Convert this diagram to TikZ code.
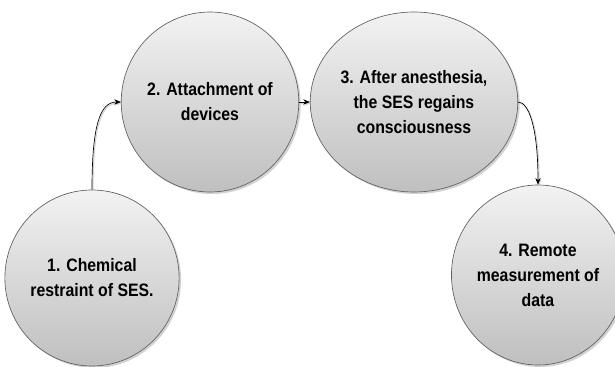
\documentclass[tikz,border=0pt]{standalone}
\usepackage{fontspec}
\setmainfont[FakeStretch=0.88]{Liberation Sans}
\usepackage{tikz}
\usetikzlibrary{shapes.geometric,shadows,arrows.meta}

\tikzset{
  stage/.style={ellipse, draw=gray!75!black, line width=0.5pt,
    top color=gray!10, bottom color=gray!50, inner sep=0pt,
    align=center, font=\bfseries\fontsize{13.5}{18.75}\selectfont,
    drop shadow={shadow xshift=1.5pt, shadow yshift=-1.5pt, fill=gray!70, opacity=0.5}},
  link/.style={-{Stealth[length=5pt,width=4pt]}, line width=0.5pt,
    preaction={draw=gray!35, line width=0.8pt, transform canvas={xshift=0.8pt, yshift=-0.8pt}}}
}

\begin{document}
\begin{tikzpicture}[x=0.75pt, y=-0.75pt]
    \useasboundingbox (0,0) rectangle (615,367);
    % sizes in pt (1px = 0.75pt)
    \node[stage, minimum width=115.5pt, minimum height=132pt] (chem) at (92, 278) {1. Chemical\\restraint of SES.};
    \node[stage, minimum width=124.5pt, minimum height=135pt] (attach) at (210, 102) {2. Attachment of\\devices};
    \node[stage, minimum width=120pt, minimum height=135pt] (wake) at (414, 102) {3. After anesthesia,\\the SES regains\\consciousness};
    \node[stage, minimum width=115.5pt, minimum height=135pt] (remote) at (538, 275) {4. Remote\\measurement of\\data};
    \draw [link] (chem.north) .. controls (92, 125) and (100, 102) .. (attach.west);
    \draw [link] (attach.east) -- (wake.west);
    \draw [link] (wake.east) .. controls (528, 102) and (538, 125) .. (remote.north);
  \end{tikzpicture}
\end{document}
